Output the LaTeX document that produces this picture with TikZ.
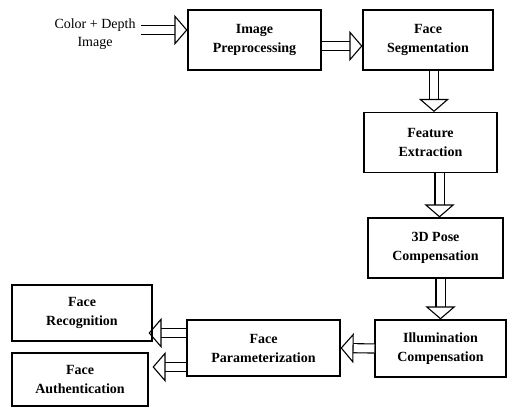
\documentclass[tikz,border=0pt]{standalone}
\usepackage{fontspec}
\setmainfont{Liberation Serif}
\usetikzlibrary{arrows.meta,positioning}
\tikzset{
  block/.style={
    rectangle,
    draw=black, line width=1.1pt,
    minimum width=133pt,
    minimum height=60pt,
    align=center,
    font=\fontsize{14}{19}\selectfont\bfseries},
  hollow/.style={
    double, double distance=8pt, line width=1.1pt,
    -{Triangle[open, length=13pt, width=30pt, line width=1.1pt]}},
}

\begin{document}
\begin{tikzpicture}[x=1pt, y=-1pt]
  \useasboundingbox (0,0) rectangle (507,407);
  % top row
  \node (input) at (95,34) [align=center, font=\fontsize{14}{18}\selectfont] {Color + Depth\\Image};
  \node[block] (prep) at (254.5,40) {Image\\Preprocessing};
  \node[block, minimum width=130pt] (seg) at (428,40) {Face\\Segmentation};
  % right column going down
  \node[block] (feat) at (430.5,142.5) {Feature\\Extraction};
  \node[block, minimum width=135pt] (pose) at (435.5,248) {3D Pose\\Compensation};
  \node[block, minimum width=131pt, minimum height=57pt] (illum) at (440.5,348.5) {Illumination\\Compensation};
  % bottom row going left
  \node[block, minimum width=153pt, minimum height=56pt] (param) at (263.5,348) {Face\\Parameterization};
  \node[block, minimum width=140pt, minimum height=56pt] (recog) at (82,313) {Face\\Recognition};
  \node[block, minimum width=136pt, minimum height=53pt] (auth) at (80,379.5) {Face\\Authentication};

  \draw[hollow] ([xshift=2pt,yshift=4pt]input.east) -- ([yshift=4pt]input.east -| prep.west);
  \draw[hollow] ([yshift=-6pt]prep.east) -- ([yshift=-6pt]prep.east -| seg.west);
  \draw[hollow] ([xshift=6pt]seg.south) -- ([xshift=6pt]seg.south |- feat.north);
  \draw[hollow] ([xshift=9pt]feat.south) -- ([xshift=9pt]feat.south |- pose.north);
  \draw[hollow] ([xshift=5pt]pose.south) -- ([xshift=5pt]pose.south |- illum.north);
  \draw[hollow] (illum.west) -- (param.east);
  \draw[hollow] ([yshift=-19pt]param.west) -- ([yshift=-19pt]param.west -| recog.east);
  \draw[hollow] ([yshift=15pt]param.west) -- ([yshift=15pt]param.west -| auth.east);
\end{tikzpicture}
\end{document}
